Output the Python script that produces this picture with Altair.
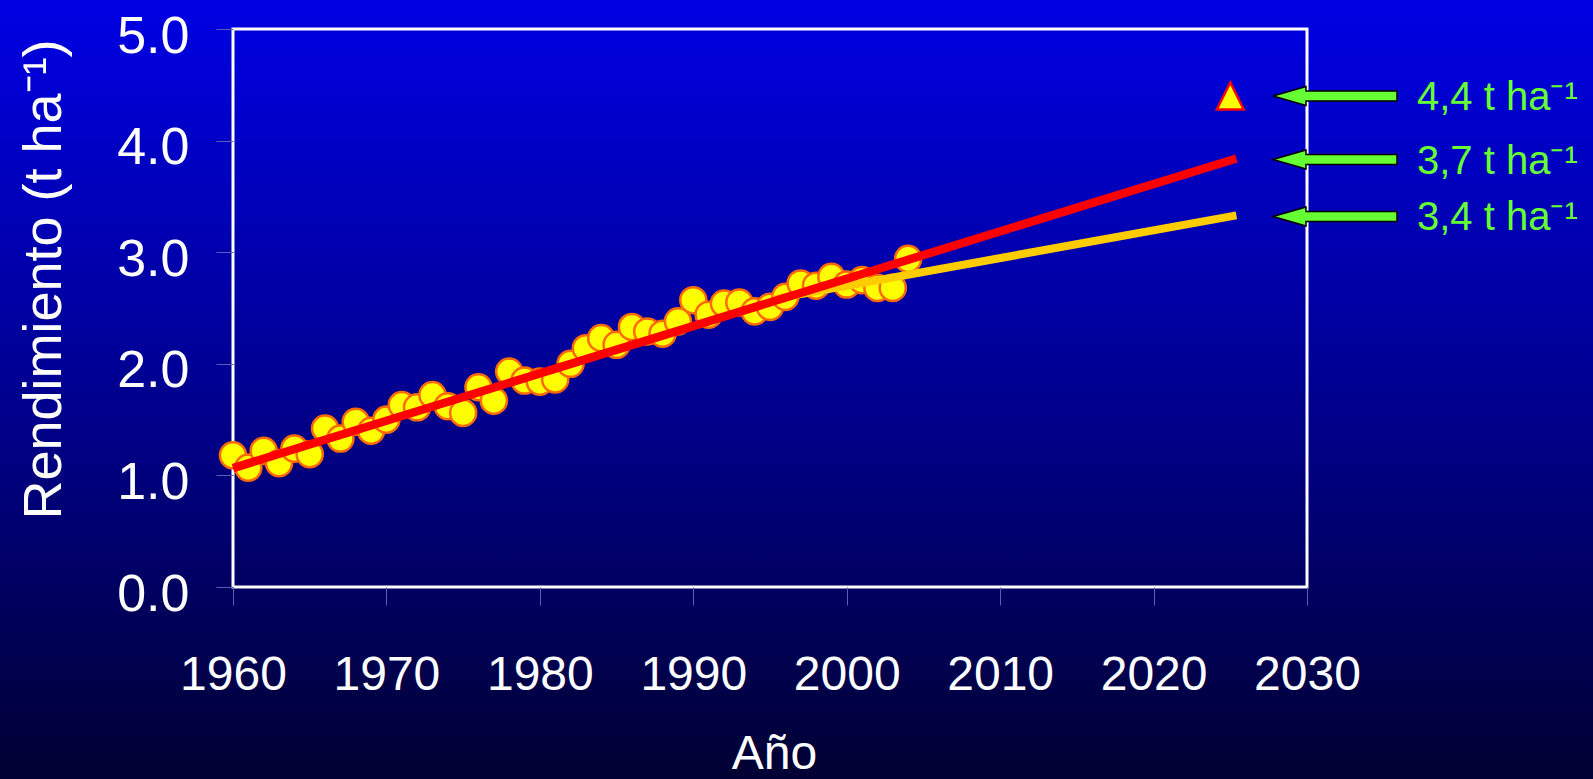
import altair as alt
import pandas as pd

# Annual yields, 1960-2004 (t/ha)
years = list(range(1960, 2005))
yields = [1.18, 1.07, 1.22, 1.11, 1.24, 1.19, 1.42, 1.33, 1.48, 1.40,
          1.50, 1.63, 1.61, 1.72, 1.62, 1.56, 1.79, 1.67, 1.93, 1.85,
          1.84, 1.86, 2.00, 2.14, 2.23, 2.17, 2.33, 2.29, 2.27, 2.38,
          2.57, 2.44, 2.54, 2.55, 2.47, 2.51, 2.60, 2.72, 2.70, 2.78,
          2.71, 2.75, 2.68, 2.68, 2.94]

# Long-term linear trend projected forward
trend_years = [1960, 2025.4]
trend_values = [1.065, 3.84]

# Trend of the most recent decade projected forward
recent_years = [1995.2, 2025.4]
recent_values = [2.58, 3.33]

# Required yield target
target_years = [2025]
target_values = [4.4]

# Callout arrows with their labels
arrow_values = [4.4, 3.83, 3.32]
arrow_labels = ["4,4 t ha\u207b\u00b9", "3,7 t ha\u207b\u00b9", "3,4 t ha\u207b\u00b9"]
arrow_anchor_year = 2030

W, H = 1074, 558
PAD = {"left": 233, "top": 29, "right": 286, "bottom": 192}

x_scale = alt.Scale(domain=[1960, 2030], nice=False, zero=False)
y_scale = alt.Scale(domain=[0, 5], nice=False)

tick_color = "#5c5cb8"
narrow_font = "'Liberation Sans Narrow', 'Arial Narrow', 'Liberation Sans', sans-serif"

x_axis = alt.Axis(
    values=list(range(1960, 2031, 10)), format="d", title="Año",
    domain=False, grid=False, tickColor=tick_color, tickSize=18, tickWidth=1,
    labelFont=narrow_font, labelFontSize=48, labelColor="white",
    labelPadding=46, labelFlush=False, labelOverlap=False,
    titleFont=narrow_font, titleFontSize=48, titleColor="white",
    titleFontWeight="normal", titleBaseline="alphabetic", titleAlign="center",
    titleX=541, titleY=181, zindex=1,
)
y_axis = alt.Axis(
    values=[0, 1, 2, 3, 4, 5], format=".1f", title="Rendimiento (t ha\u207b\u00b9)",
    domain=False, grid=False, tickColor=tick_color, tickSize=17, tickWidth=1,
    labelFont="Liberation Sans", labelFontSize=52, labelColor="white",
    labelPadding=27, labelOffset=7, labelFlush=False, labelOverlap=False,
    titleFont="Liberation Sans", titleFontSize=54, titleColor="white",
    titleFontWeight="normal", titleAngle=270, titleBaseline="alphabetic",
    titleAlign="center", titleX=-173, titleY=250, zindex=1,
)

one_row = pd.DataFrame({"k": [0]})

# Slide-style vertical gradient behind everything
background = alt.Chart(one_row).mark_rect(
    fill=alt.Gradient(
        gradient="linear", x1=0, x2=0, y1=0, y2=1,
        stops=[alt.GradientStop(color="#0000e4", offset=0),
               alt.GradientStop(color="#000088", offset=0.55),
               alt.GradientStop(color="#000032", offset=1)],
    ),
    strokeWidth=0,
).encode(
    x=alt.value(-PAD["left"]), x2=alt.value(W + PAD["right"]),
    y=alt.value(-PAD["top"]), y2=alt.value(H + PAD["bottom"]),
)

frame = alt.Chart(one_row).mark_rect(
    fillOpacity=0, stroke="white", strokeWidth=3,
).encode(x=alt.value(0), x2=alt.value(W), y=alt.value(0), y2=alt.value(H))

obs = pd.DataFrame({"year": years, "yield": yields})
points = alt.Chart(obs).mark_point(
    shape="circle", size=680, filled=True, fill="#ffff00", opacity=1,
    stroke="#ff6a00", strokeWidth=2.5,
).encode(
    x=alt.X("year:Q", scale=x_scale, axis=x_axis),
    y=alt.Y("yield:Q", scale=y_scale, axis=y_axis),
)

recent = alt.Chart(pd.DataFrame({"year": recent_years, "yield": recent_values})).mark_line(
    color="#ffcc00", strokeWidth=8, strokeCap="butt",
).encode(x=alt.X("year:Q", scale=x_scale), y=alt.Y("yield:Q", scale=y_scale))

trend = alt.Chart(pd.DataFrame({"year": trend_years, "yield": trend_values})).mark_line(
    color="#ff0000", strokeWidth=8.5, strokeCap="butt",
).encode(x=alt.X("year:Q", scale=x_scale), y=alt.Y("yield:Q", scale=y_scale))

target = alt.Chart(pd.DataFrame({"year": target_years, "yield": target_values})).mark_point(
    shape="M0,-1L-1,1L1,1Z", size=729, filled=True, fill="#ffff00", opacity=1,
    stroke="#ff0000", strokeWidth=2.5,
).encode(x=alt.X("year:Q", scale=x_scale), y=alt.Y("yield:Q", scale=y_scale))

callouts = pd.DataFrame({
    "year": [arrow_anchor_year] * len(arrow_values),
    "yield": arrow_values,
    "label": arrow_labels,
})

# Left-pointing block arrow; size 4 keeps the path in pixel units
arrow_path = "M-34,0L-1,-9.5L-1,-5L90,-5L90,5L-1,5L-1,9.5Z"
arrows = alt.Chart(callouts).mark_point(
    shape=arrow_path, size=4, filled=True, fill="#66ff33", opacity=1,
    stroke="black", strokeWidth=1.5,
).encode(x=alt.X("year:Q", scale=x_scale), y=alt.Y("yield:Q", scale=y_scale))

labels = alt.Chart(callouts).mark_text(
    align="left", baseline="middle", dx=110, dy=2,
    font="Liberation Sans", fontSize=40, color="#66ff33",
).encode(
    x=alt.X("year:Q", scale=x_scale), y=alt.Y("yield:Q", scale=y_scale),
    text="label:N",
)

chart = alt.layer(
    background, frame, points, recent, trend, target, arrows, labels,
).properties(
    width=W, height=H, padding=PAD,
    autosize=alt.AutoSizeParams(type="none"),
    background="#000070",
).configure_view(stroke=None)

chart.save("out.html", embed_options={"renderer": "svg", "actions": False})
